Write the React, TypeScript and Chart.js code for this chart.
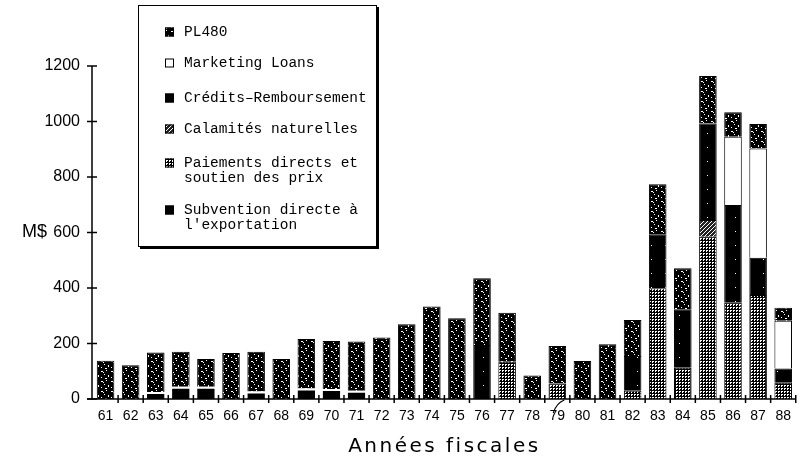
import { useEffect, useRef } from 'react';
import { Chart, registerables } from 'chart.js';

Chart.register(...registerables);

const years = ['61','62','63','64','65','66','67','68','69','70','71','72','73','74','75','76','77','78','79','80','81','82','83','84','85','86','87','88'];

const subvention =  [0, 0, 25, 44, 44, 0, 27, 0, 38, 36, 30, 0, 0, 0, 0, 0, 0, 0, 0, 0, 0, 0, 0, 0, 0, 0, 0, 0];
const paiements =   [0, 0, 0, 0, 0, 0, 0, 0, 0, 0, 0, 0, 0, 0, 0, 0, 134, 0, 56, 0, 0, 30, 399, 113, 585, 347, 375, 59];
const calamites =   [0, 0, 0, 0, 0, 0, 0, 0, 0, 0, 0, 0, 0, 0, 0, 0, 0, 0, 0, 0, 0, 0, 0, 0, 60, 0, 0, 0];
const credits =     [0, 0, 0, 0, 0, 0, 0, 0, 0, 0, 0, 0, 0, 0, 0, 195, 0, 0, 0, 0, 0, 125, 195, 210, 348, 352, 134, 51];
const marketing =   [0, 0, 0, 0, 0, 0, 0, 0, 0, 0, 0, 0, 0, 0, 0, 0, 0, 0, 0, 0, 0, 0, 0, 0, 0, 246, 394, 172];
const pl480 =       [138, 122, 143, 126, 100, 166, 143, 144, 178, 173, 177, 222, 269, 333, 291, 240, 177, 85, 135, 137, 197, 130, 180, 148, 171, 88, 88, 47];

const yTicks = [0, 200, 400, 600, 800, 1000, 1200];

const legendItems: { key: string; lines: string[] }[] = [
  { key: 'pl480', lines: ['PL480'] },
  { key: 'marketing', lines: ['Marketing Loans'] },
  { key: 'credits', lines: ['Crédits–Remboursement'] },
  { key: 'calamites', lines: ['Calamités naturelles'] },
  { key: 'paiements', lines: ['Paiements directs et', 'soutien des prix'] },
  { key: 'subvention', lines: ['Subvention directe à', "l'exportation"] },
];

function makePattern(ctx: CanvasRenderingContext2D, size: number, bg: string, fg: string, rects: number[][]) {
  const c = document.createElement('canvas');
  c.width = size; c.height = size;
  const g = c.getContext('2d')!;
  g.fillStyle = bg; g.fillRect(0, 0, size, size);
  g.fillStyle = fg;
  rects.forEach(r => g.fillRect(r[0], r[1], r[2], r[3]));
  return ctx.createPattern(c, 'repeat')!;
}

export default function App() {
  const ref = useRef<HTMLCanvasElement>(null);
  useEffect(() => {
    const canvas = ref.current!;
    const ctx = canvas.getContext('2d')!;
    const fills: Record<string, any> = {
      pl480: makePattern(ctx, 10, '#000', '#fff', [[1,1,2,1],[6,0,1,1],[4,4,1,1],[8,5,1,2],[1,7,1,1],[5,8,2,1],[3,2,1,1]]),
      paiements: makePattern(ctx, 3, '#000', '#fff', [[1,1,2,1],[1,2,1,1]]),
      calamites: makePattern(ctx, 4, '#222', '#fff', [[0,0,1,1],[2,2,1,1],[1,3,1,1],[3,1,1,1]]),
      credits: makePattern(ctx, 14, '#000', '#fff', [[7,7,1,1]]),
      marketing: '#ffffff',
      subvention: '#000000',
    };

    const decor = {
      id: 'decor',
      afterDatasetsDraw(chart: any) {
        const c: CanvasRenderingContext2D = chart.ctx;
        const xs = chart.scales.x;
        const ys = chart.scales.y;
        const area = chart.chartArea;
        const y0 = ys.getPixelForValue(0);
        const yTop = ys.getPixelForValue(1200);
        const axX = area.left - 1;
        const seg = (a: number, b: number, cc: number, d: number) => { c.beginPath(); c.moveTo(a, b); c.lineTo(cc, d); c.stroke(); };
        c.save();
        c.strokeStyle = '#000';
        c.lineWidth = 1.5;
        seg(axX, yTop, axX, y0);
        yTicks.forEach(v => { const py = ys.getPixelForValue(v); seg(axX - 5, py, axX + 5, py); });
        seg(axX - 5, y0, area.right, y0);
        const step = xs.getPixelForValue(1) - xs.getPixelForValue(0);
        for (let i = 1; i <= years.length; i++) {
          const px = xs.getPixelForValue(i) - step / 2;
          seg(px, y0 - 4, px, y0 + 4);
        }
        // hand-drawn slash on "79"
        const i79 = years.indexOf('79');
        const p79 = xs.getPixelForValue(i79);
        c.lineWidth = 1.2;
        c.beginPath();
        c.moveTo(p79 - 4, y0 + 14);
        c.quadraticCurveTo(p79 - 1, y0 + 4, p79 + 7, y0 + 1);
        c.stroke();

        // y title
        c.fillStyle = '#000';
        c.font = '18px "Liberation Sans"';
        c.textAlign = 'left';
        c.textBaseline = 'middle';
        c.fillText('M$', 22, ys.getPixelForValue(600));

        // x title
        c.font = '20px "DejaVu Sans"';
        (c as any).letterSpacing = '2.5px';
        c.textAlign = 'center';
        c.fillText('Années fiscales', (area.left + area.right) / 2, 447);
        (c as any).letterSpacing = '0px';

        // legend box
        const bx = 138, by = 5, bw = 239, bh = 242;
        c.fillStyle = '#000';
        c.fillRect(bx + 2, by + 2, bw, bh);
        c.fillStyle = '#fff';
        c.fillRect(bx, by, bw, bh);
        c.lineWidth = 1;
        c.strokeRect(bx + 0.5, by + 0.5, bw - 1, bh - 1);
        const rows = [32, 63, 98, 129, 163, 210];
        c.font = '14.5px "Liberation Mono"';
        c.textAlign = 'left';
        c.textBaseline = 'middle';
        legendItems.forEach((it, k) => {
          const ry = rows[k];
          c.fillStyle = fills[it.key];
          c.fillRect(165, ry - 4.5, 9, 9);
          c.strokeStyle = '#000';
          c.lineWidth = 1;
          c.strokeRect(165.5, ry - 4, 8, 8);
          c.fillStyle = '#000';
          it.lines.forEach((ln, j) => c.fillText(ln, 184, ry + j * 15));
        });
        c.restore();
      },
    };

    const mk = (label: string, data: number[], key: string, extra: any = {}) => ({
      label, data, backgroundColor: fills[key], borderColor: '#000', borderWidth: 1,
      barPercentage: 0.7, categoryPercentage: 1, ...extra,
    });

    const chart = new Chart(canvas, {
      type: 'bar',
      data: {
        labels: years,
        datasets: [
          mk("Subvention directe à l'exportation", subvention, 'subvention', { borderColor: '#fff', borderWidth: { top: 2, left: 0, right: 0, bottom: 0 } }),
          mk('Paiements directs et soutien des prix', paiements, 'paiements'),
          mk('Calamités naturelles', calamites, 'calamites'),
          mk('Crédits–Remboursement', credits, 'credits'),
          mk('Marketing Loans', marketing, 'marketing'),
          mk('PL480', pl480, 'pl480'),
        ],
      },
      options: {
        responsive: false,
        animation: false,
        layout: { padding: { top: 66, right: 1, left: 0, bottom: 0 } },
        plugins: { legend: { display: false }, tooltip: { enabled: false } },
        scales: {
          x: {
            stacked: true,
            grid: { display: false, drawTicks: false },
            border: { display: false },
            ticks: { color: '#000', font: { family: 'Liberation Sans', size: 14 }, padding: 9, maxRotation: 0, autoSkip: false },
            afterFit: (s: any) => { s.height = 64; },
          },
          y: {
            stacked: true,
            min: 0,
            max: 1200,
            grid: { display: false, drawTicks: false },
            border: { display: false },
            ticks: { color: '#000', stepSize: 200, font: { family: 'Liberation Sans', size: 16 }, padding: 13, callback: (v: any) => String(v) },
            afterFit: (s: any) => { s.width = 93; },
          },
        },
      },
      plugins: [decor],
    });
    return () => chart.destroy();
  }, []);
  return (
    <canvas ref={ref} width={800} height={463}
      style={{ position: 'absolute', left: 0, top: 0, width: 800, height: 463, display: 'block', background: '#fff' }} />
  );
}
